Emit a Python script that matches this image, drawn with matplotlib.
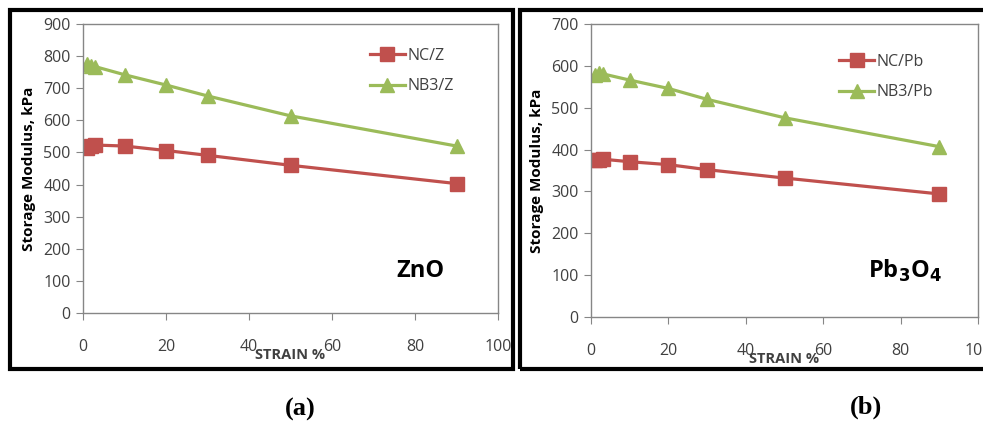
import matplotlib
matplotlib.use("Agg")
import matplotlib.pyplot as plt
from matplotlib.patches import Rectangle

# ---- data ----
strain = [1, 2, 3, 10, 20, 30, 50, 90]
nc_z = [515, 520, 523, 520, 506, 491, 460, 403]
nb3_z = [775, 770, 767, 742, 710, 676, 614, 520]
nc_pb = [375, 376, 377, 371, 364, 352, 332, 294]
nb3_pb = [578, 582, 581, 566, 546, 520, 476, 407]

xticks = [0, 20, 40, 60, 80, 100]
yticks_a = [0, 100, 200, 300, 400, 500, 600, 700, 800, 900]
yticks_b = [0, 100, 200, 300, 400, 500, 600, 700]

RED = "#C0504D"
GREEN = "#9BBB59"
GRAY = "#868686"
TXT = "#404040"

plt.rcParams['font.family'] = ['Open Sans', 'DejaVu Sans']

W, H = 983, 428
fig = plt.figure(figsize=(W / 100, H / 100), dpi=100)


def fx(px):
    return px / W


def fy(py):
    return 1 - py / H


def make_panel(rect, s1, s2, lab1, lab2, yticks, ymax, title, leg_anchor, title_pos):
    ax = fig.add_axes(rect)
    ax.plot(strain, s1, color=RED, lw=2.3, marker='s', ms=10, label=lab1)
    ax.plot(strain, s2, color=GREEN, lw=2.3, marker='^', ms=10, label=lab2)
    ax.set_xlim(0, 100)
    ax.set_ylim(0, ymax)
    ax.set_xticks(xticks)
    ax.set_yticks(yticks)
    for sp in ax.spines.values():
        sp.set_color(GRAY)
        sp.set_linewidth(1.0)
    ax.tick_params(axis='x', direction='out', length=5, color=GRAY, pad=14,
                   labelsize=11.5, labelcolor=TXT)
    ax.tick_params(axis='y', direction='out', length=5, color=GRAY, pad=4,
                   labelsize=11.5, labelcolor=TXT)
    ax.set_xlabel("STRAIN %", fontsize=10.5, fontweight='bold', color=TXT, labelpad=-5)
    ax.set_ylabel("Storage Modulus, kPa", fontsize=11, fontweight='bold', color='black',
                  labelpad=5)
    leg = ax.legend(loc='upper left', bbox_to_anchor=leg_anchor, frameon=False,
                    fontsize=11.5, handlelength=2.2, handletextpad=0.15,
                    labelspacing=0.9, borderaxespad=0)
    for t in leg.get_texts():
        t.set_color(TXT)
    ax.text(title_pos[0], title_pos[1], title, transform=ax.transAxes,
            fontsize=17, fontweight='bold', color='black', ha='left', va='baseline')
    return ax


# left panel (ZnO)
ax1 = make_panel([fx(83), fy(313), fx(498 - 83), (313 - 24) / H],
                 nc_z, nb3_z, "NC/Z", "NB3/Z", yticks_a, 900, "ZnO",
                 (0.675, 0.94), (0.755, 0.125))
# right panel (Pb3O4)
ax2 = make_panel([fx(591), fy(317), fx(978 - 591), (317 - 24) / H],
                 nc_pb, nb3_pb, "NC/Pb", "NB3/Pb", yticks_b, 700, r"Pb$_\mathbf{3}$O$_\mathbf{4}$",
                 (0.625, 0.92), (0.715, 0.135))

# panel frames
fig.patches.append(Rectangle((fx(10), fy(369)), fx(503), 359 / H, transform=fig.transFigure,
                             fill=False, edgecolor='black', linewidth=3))
fig.patches.append(Rectangle((fx(520), fy(369)), fx(480), 359 / H, transform=fig.transFigure,
                             fill=False, edgecolor='black', linewidth=3))

fig.text(fx(300), fy(409), "(a)", fontsize=19, fontweight='bold', ha='center', va='center',
         family=['Liberation Serif'])
fig.text(fx(866), fy(407), "(b)", fontsize=19, fontweight='bold', ha='center', va='center',
         family=['Liberation Serif'])

fig.savefig("out.png", dpi=100)
